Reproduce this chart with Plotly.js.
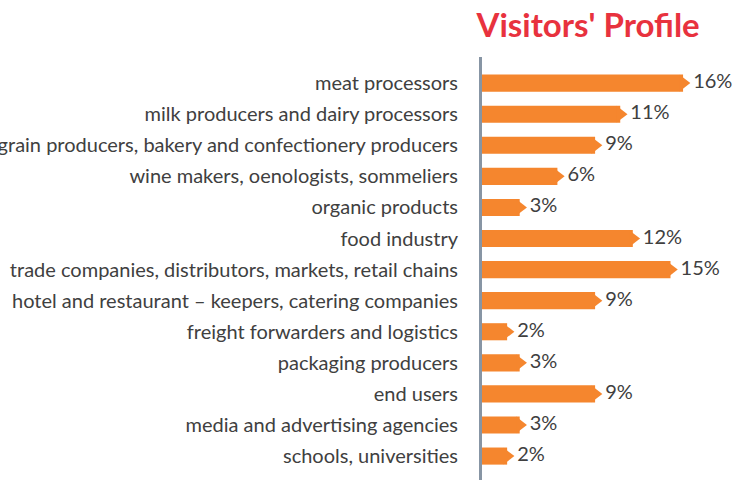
<!DOCTYPE html>
<html><head><meta charset="utf-8">
<script src="https://cdn.plot.ly/plotly-3.0.1.min.js"></script>
<style>html,body{margin:0;padding:0;background:#fff;}#chart{width:737px;height:480px;}</style>
</head><body><div id="chart"></div>
<script>
const categories = [
  "meat processors",
  "milk producers and dairy processors",
  "grain producers, bakery and confectionery producers",
  "wine makers, oenologists, sommeliers",
  "organic products",
  "food industry",
  "trade companies, distributors, markets, retail chains",
  "hotel and restaurant \u2013 keepers, catering companies",
  "freight forwarders and logistics",
  "packaging producers",
  "end users",
  "media and advertising agencies",
  "schools, universities"
];
const values = [16, 11, 9, 6, 3, 12, 15, 9, 2, 3, 9, 3, 2];
const valueLabels = values.map(v => v + "%");

const orange = "#f5862e";
const font = "Lato, 'Open Sans', sans-serif";

const bars = {
  type: "bar", orientation: "h",
  x: values, y: categories,
  marker: {color: orange, line: {width: 0}},
  hoverinfo: "none", cliponaxis: false
};
const tips = {
  type: "scatter", mode: "markers+text",
  x: values, y: categories,
  text: valueLabels, textposition: "middle right",
  textfont: {family: font, size: 20, color: "#404040"},
  marker: {symbol: "triangle-right", size: 14.5, color: orange, line: {width: 0}},
  cliponaxis: false, hoverinfo: "none"
};

const layout = {
  width: 737, height: 480,
  margin: {l: 482, r: 20, t: 57, b: 0},
  paper_bgcolor: "#fff", plot_bgcolor: "#fff",
  showlegend: false,
  bargap: 0.45,
  title: {
    text: "<b>Visitors' Profile</b>",
    font: {family: font, size: 33, color: "#e8323e"},
    xref: "container", x: 0.798, xanchor: "center",
    yref: "container", y: 0.948, yanchor: "middle"
  },
  xaxis: {range: [0, 18.7], showgrid: false, zeroline: false, showticklabels: false, showline: false, fixedrange: true},
  yaxis: {
    type: "category", range: [12.77, -0.84],
    showgrid: false, zeroline: false,
    showline: true, linecolor: "#8795a4", linewidth: 3,
    ticks: "", ticklabelstandoff: 17,
    tickfont: {family: font, size: 20, color: "#404040"},
    automargin: false, fixedrange: true
  }
};

Plotly.newPlot("chart", [bars, tips], layout, {displayModeBar: false, staticPlot: true});
</script>
</body></html>
